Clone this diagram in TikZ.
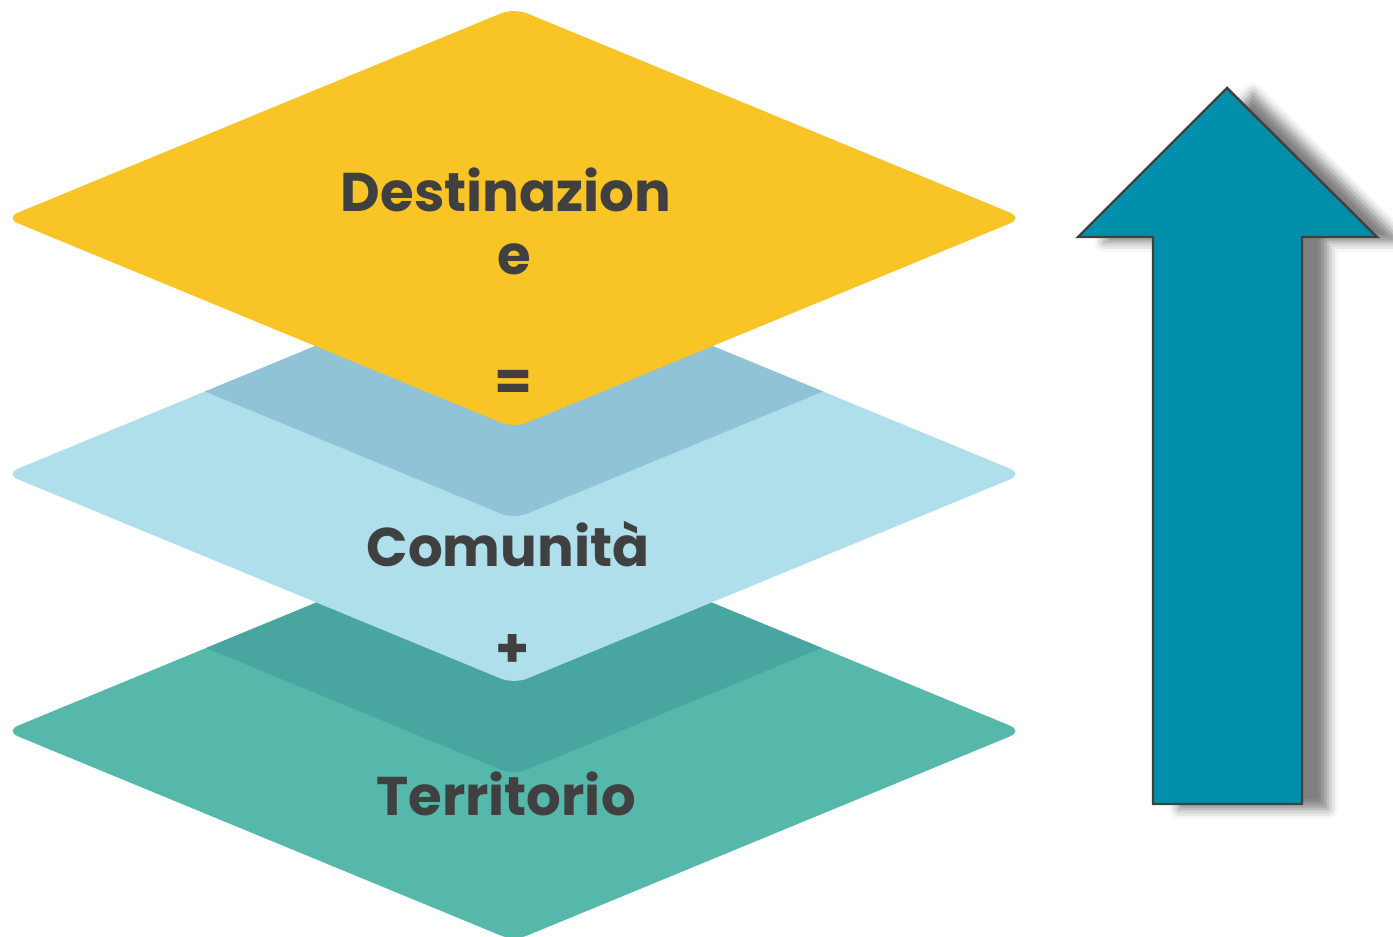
\documentclass[tikz,border=0pt]{standalone}
\usepackage{fontspec}
\setmainfont{Poppins}
\usepackage{xcolor}
\usetikzlibrary{calc}
\usetikzlibrary{shadows.blur}

\definecolor{giallo}{HTML}{F8C426}
\definecolor{azzurro}{HTML}{AEDFEA}
\definecolor{azzurroscuro}{HTML}{8FC3D5}
\definecolor{verde}{HTML}{55B8AA}
\definecolor{verdescuro}{HTML}{49A5A0}
\definecolor{freccia}{HTML}{008FAB}
\definecolor{testo}{HTML}{404040}

% rombo centrato in y=#1
\newcommand{\rombo}[1]{(5,#1) -- (514,#1-210) -- (1023,#1) -- (514,#1+210) -- cycle}

\begin{document}
\begin{tikzpicture}[x=0.01cm, y=-0.01cm,
    strato/.style={rounded corners=4pt},
    etichetta/.style={text=testo, font=\fontsize{15.5}{18}\selectfont\bfseries, inner sep=0pt, anchor=base}]
        \useasboundingbox (0,0) rectangle (1393,937);

        %TERRITORIO
        \fill[verde, strato] \rombo{731};
        \begin{scope}
            \clip[strato] \rombo{731};
            \fill[verdescuro, strato] \rombo{565};
        \end{scope}

        %COMUNITA
        \fill[azzurro, strato] \rombo{474};
        \begin{scope}
            \clip[strato] \rombo{474};
            \fill[azzurroscuro, strato] \rombo{309};
        \end{scope}

        %DESTINAZIONE
        \fill[giallo, strato] \rombo{218};

        %TESTI
        \node[etichetta] (dest) at (506,212) {Destinazion};
        \node[etichetta] (deste) at (514,275) {e};
        \node[etichetta] (uguale) at (513,401) {=};
        \node[etichetta] (com) at (508,567) {Comunità};
        \node[etichetta] (piu) at (513,668) {+};
        \node[etichetta] (terr) at (506,816) {Territorio};

        %FRECCIA
        \draw[fill=freccia, draw=testo, line width=0.7pt,
            blur shadow={shadow xshift=0.26cm, shadow yshift=-0.05cm, shadow blur radius=0.1cm, shadow opacity=50}]
            (1227,88) -- (1377,237) -- (1302,237) -- (1302,804) -- (1153,804) -- (1153,237) -- (1078,237) -- cycle;
    \end{tikzpicture}
\end{document}
